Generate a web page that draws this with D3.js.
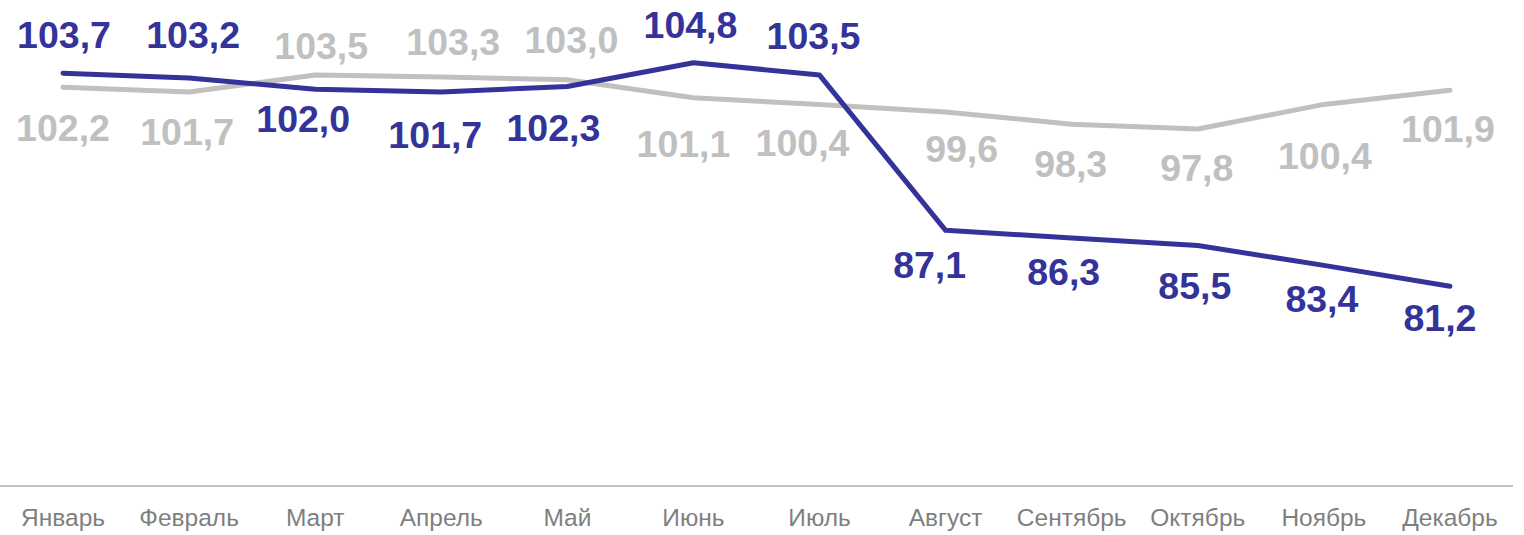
<!DOCTYPE html>
<html>
<head>
<meta charset="utf-8">
<script src="https://cdn.jsdelivr.net/npm/d3@7"></script>
<style>
  html, body { margin: 0; padding: 0; background: #fff; }
  svg { display: block; font-family: "Liberation Sans", Arial, sans-serif; }
</style>
</head>
<body>
<div id="chart"></div>
<script>
// data
const months = ["Январь", "Февраль", "Март", "Апрель", "Май", "Июнь",
  "Июль", "Август", "Сентябрь", "Октябрь", "Ноябрь", "Декабрь"];
const seriesDark = [103.7, 103.2, 102.0, 101.7, 102.3, 104.8, 103.5, 87.1, 86.3, 85.5, 83.4, 81.2];
const seriesGray = [102.2, 101.7, 103.5, 103.3, 103.0, 101.1, 100.4, 99.6, 98.3, 97.8, 100.4, 101.9];

// label placement (dx, baseline dy from the point)
const darkLabelPos = [[1, -25], [4, -30], [-12, 43], [-6, 56], [-14, 55], [-3, -25],
  [-6, -26], [-16, 48], [-8, 47], [-3, 53], [-2, 47], [-10, 45]];
const grayLabelPos = [[0, 54], [-2, 53], [6, -16], [12, -22], [4, -27], [-10, 59],
  [-17, 52], [16, 50], [-1, 53], [-1, 52], [1, 65], [-2, 52]];

const width = 1524, height = 535;
const fmt = v => v.toFixed(1).replace(".", ",");

const svg = d3.select("#chart")
  .append("svg")
  .attr("width", width)
  .attr("height", height);

const x = d3.scaleBand()
  .domain(months)
  .range([0, 1513]);

const y = d3.scaleLinear()
  .domain([60, 110])
  .range([487, 13.5]);

const cx = d => x(d) + x.bandwidth() / 2;

// x axis
const xAxis = svg.append("g")
  .attr("transform", "translate(0,486)")
  .call(d3.axisBottom(x).tickSize(0).tickPadding(0));
xAxis.select(".domain")
  .attr("d", "M0,0H1513")
  .attr("stroke", "#c0c0c0")
  .attr("stroke-width", 2);
xAxis.selectAll("text")
  .attr("y", 40)
  .attr("dy", null)
  .attr("fill", "#7f7f7f")
  .style("font-size", "24.5px")
  .style("font-family", "\"Liberation Sans\", Arial, sans-serif");

const line = d3.line()
  .x((d, i) => cx(months[i]))
  .y(d => y(d));

function drawSeries(values, color, pos) {
  svg.append("path")
    .datum(values)
    .attr("fill", "none")
    .attr("stroke", color)
    .attr("stroke-width", 5)
    .attr("stroke-linejoin", "round")
    .attr("stroke-linecap", "round")
    .attr("d", line);

  svg.append("g")
    .selectAll("text")
    .data(values)
    .enter()
    .append("text")
    .attr("x", (d, i) => cx(months[i]) + pos[i][0])
    .attr("y", (d, i) => y(d) + pos[i][1])
    .attr("text-anchor", "middle")
    .attr("fill", color)
    .style("font-size", "37.5px")
    .style("font-weight", "bold")
    .text(d => fmt(d));
}

drawSeries(seriesGray, "#c0c0c0", grayLabelPos);
drawSeries(seriesDark, "#333399", darkLabelPos);
</script>
</body>
</html>
